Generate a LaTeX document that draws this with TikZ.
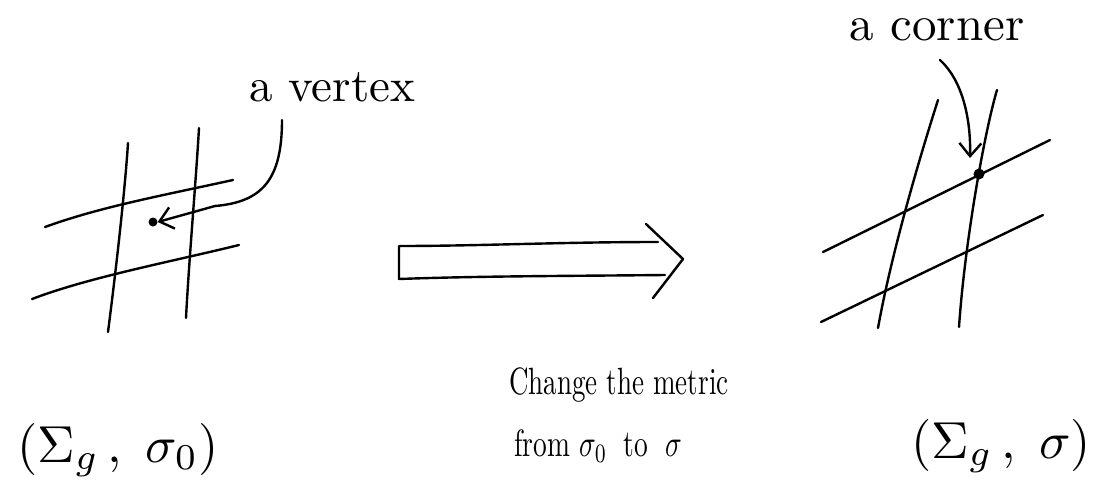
\documentclass[tikz,border=0pt]{standalone}
\usepackage{graphicx}
\usetikzlibrary{arrows.meta}
\begin{document}
\begin{tikzpicture}[x=1pt,y=-1pt,
  ink/.style={line width=2.4pt, line cap=round, line join=round, black},
  barb/.style={-{Straight Barb[length=13pt,width=22pt,line width=2.4pt]}},
  txt/.style={inner sep=0pt}]
\useasboundingbox (0,0) rectangle (1095,493);

% ---------- left grid ----------
\coordinate (lv1a) at (128,143); \coordinate (lv1b) at (108,332);
\coordinate (lv2a) at (199,128); \coordinate (lv2b) at (186,318);
\coordinate (lh1a) at (45,227);  \coordinate (lh1b) at (233,180);
\coordinate (lh2a) at (32,299);  \coordinate (lh2b) at (239,245);
\draw[ink] (lv1a) .. controls (125,190) and (116,270) .. (lv1b);
\draw[ink] (lv2a) .. controls (196,180) and (189,260) .. (lv2b);
\draw[ink] (lh1a) .. controls (100,207) and (160,196) .. (lh1b);
\draw[ink] (lh2a) .. controls (90,277) and (170,262) .. (lh2b);
\node[circle, fill=black, inner sep=0pt, minimum size=9pt] (vdot) at (153,222) {};
\coordinate (vstart) at (282,120);
\node[txt] (vlabel) at (332,87) {\scalebox{4.7}{a vertex}};
\draw[ink, barb] (vstart) .. controls (282,180) and (262,202) .. (215,206)
  -- (vdot.east);

% ---------- big arrow ----------
\coordinate (ba1) at (658,242);
\coordinate (ba2) at (399,246);
\coordinate (ba3) at (399,279);
\coordinate (ba4) at (665,275);
\coordinate (bh1) at (646,224);
\coordinate (btip) at (683,259);
\coordinate (bh2) at (653,298);
\draw[ink] (ba1) .. controls (560,242) and (480,246) .. (ba2) -- (ba3)
  .. controls (480,276) and (570,276) .. (ba4);
\draw[ink] (bh1) -- (btip) -- (bh2);

% ---------- right grid ----------
\coordinate (rv1a) at (938,100); \coordinate (rv1b) at (878,328);
\coordinate (rv2a) at (997,90);  \coordinate (rv2b) at (959,327);
\coordinate (rd1a) at (823,252); \coordinate (rd1b) at (1050,140);
\coordinate (rd2a) at (821,322); \coordinate (rd2b) at (1043,215);
\draw[ink] (rv1a) .. controls (922,150) and (892,250) .. (rv1b);
\draw[ink] (rv2a) .. controls (985,130) and (965,240) .. (rv2b);
\draw[ink] (rd1a) -- (rd1b);
\draw[ink] (rd2a) -- (rd2b);
\node[circle, fill=black, inner sep=0pt, minimum size=11pt] (cdot) at (979,174) {};
\node[txt] (clabel) at (937,30) {\scalebox{4.9}{a corner}};
\coordinate (cstart) at (940,60);
\coordinate (cend) at (970,158);
\draw[ink, barb] (cstart) .. controls (962,80) and (971,118) .. (cend);

% ---------- labels ----------
\node[txt] (left) at (118,450) {\scalebox{5.2}{$(\Sigma_g\,,\;\sigma_0)$}};
\node[txt] (chg) at (619,385) {\scalebox{2.7}[3.8]{Change the metric}};
\node[txt] (from) at (598,446) {\scalebox{2.75}[3.8]{from $\sigma_0$\; to\; $\sigma$}};
\node[txt] (right) at (1001,446) {\scalebox{5.2}{$(\Sigma_g\,,\;\sigma)$}};
\end{tikzpicture}
\end{document}
